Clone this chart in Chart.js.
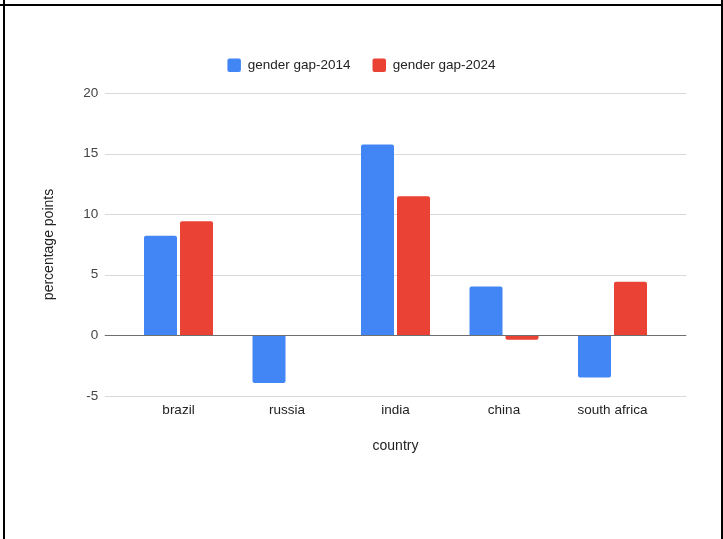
<!DOCTYPE html>
<html>
<head>
<meta charset="utf-8">
<script src="https://cdn.jsdelivr.net/npm/chart.js@4"></script>
<style>
  html, body { margin: 0; padding: 0; background: #fff; overflow: hidden; }
  #wrap { position: relative; width: 723px; height: 539px; }
  #wrap canvas { position: absolute; left: 0; top: 0; }
  .rule { position: absolute; background: #000; }
</style>
</head>
<body>
<div id="wrap">
  <canvas id="c" width="723" height="539"></canvas>
  <div class="rule" style="left:0;top:4px;width:723px;height:2px"></div>
  <div class="rule" style="left:3px;top:0;width:2px;height:539px"></div>
  <div class="rule" style="left:721px;top:0;width:2px;height:539px"></div>
</div>
<script>
// Gender gap (percentage points) by country, 2014 vs 2024
const countries = ['brazil', 'russia', 'india', 'china', 'south africa'];
const gap2014 = [8.23, -3.93, 15.74, 4.04, -3.47];
const gap2024 = [9.41, null, 11.47, -0.35, 4.43];
const seriesNames = ['gender gap-2014', 'gender gap-2024'];
const yTicks = [-5, 0, 5, 10, 15, 20];

const FONT = "'Liberation Sans', Arial, Helvetica, sans-serif";
const GRID_EXT = 19.5;   // gridlines run a little past the category band

// Horizontal gridlines spanning slightly wider than the plot band,
// with the zero baseline drawn on top of the bars.
const wideGrid = {
  id: 'wideGrid',
  beforeDatasetsDraw(chart) {
    const { ctx, chartArea, scales: { y } } = chart;
    ctx.save();
    ctx.lineWidth = 1;
    ctx.strokeStyle = '#d9d9d9';
    y.ticks.forEach(t => {
      if (t.value === 0) return;
      const py = Math.round(y.getPixelForValue(t.value)) + 0.5;
      ctx.beginPath();
      ctx.moveTo(chartArea.left - GRID_EXT, py);
      ctx.lineTo(chartArea.right + GRID_EXT, py);
      ctx.stroke();
    });
    ctx.restore();
  },
  afterDatasetsDraw(chart) {
    const { ctx, chartArea, scales: { y } } = chart;
    const py = Math.round(y.getPixelForValue(0)) + 0.5;
    ctx.save();
    ctx.lineWidth = 1.2;
    ctx.strokeStyle = '#6e6e6e';
    ctx.beginPath();
    ctx.moveTo(chartArea.left - GRID_EXT, py);
    ctx.lineTo(chartArea.right + GRID_EXT, py);
    ctx.stroke();
    ctx.restore();
  }
};

// Extra space between the legend row and the plot
const legendGap = {
  id: 'legendGap',
  afterInit(chart) {
    const fit = chart.legend.fit;
    chart.legend.fit = function () {
      fit.call(this);
      this.height += 11;
    };
  }
};

new Chart(document.getElementById('c'), {
  type: 'bar',
  data: {
    labels: countries,
    datasets: [
      { label: seriesNames[0], data: gap2014, backgroundColor: '#4285f4' },
      { label: seriesNames[1], data: gap2024, backgroundColor: '#ea4335' }
    ]
  },
  options: {
    responsive: false,
    devicePixelRatio: 1,
    animation: false,
    datasets: {
      bar: {
        barPercentage: 0.9167,
        categoryPercentage: 0.6636,
        borderRadius: 2
      }
    },
    layout: { padding: { top: 36.45, bottom: 84.6, left: 0, right: 0 } },
    plugins: {
      tooltip: { enabled: false },
      legend: {
        position: 'top',
        align: 'center',
        labels: {
          boxWidth: 13.5,
          boxHeight: 13.5,
          padding: 22,
          useBorderRadius: true,
          borderRadius: 2,
          color: '#222',
          font: { family: FONT, size: 13.5 }
        }
      }
    },
    scales: {
      x: {
        grid: { display: false, drawTicks: false },
        border: { display: false },
        ticks: { padding: 6, color: '#222', font: { family: FONT, size: 13.5 } },
        title: {
          display: true, text: 'country', color: '#222',
          font: { family: FONT, size: 14 },
          padding: { top: 13.4, bottom: 0 }
        }
      },
      y: {
        min: -5,
        max: 20,
        afterBuildTicks: s => { s.ticks = yTicks.map(v => ({ value: v })); },
        grid: { display: false, drawTicks: false },
        border: { display: false },
        ticks: { padding: 26, color: '#444', font: { family: FONT, size: 13.5 } },
        title: {
          display: true, text: 'percentage points', color: '#222',
          font: { family: FONT, size: 14 },
          padding: { top: 40.6, bottom: 0 }
        },
        afterFit: s => { s.width = 124.25; }
      },
      yRight: {
        type: 'linear',
        position: 'right',
        grid: { display: false, drawTicks: false },
        border: { display: false },
        ticks: { display: false },
        afterFit: s => { s.width = 56.25; }
      }
    }
  },
  plugins: [wideGrid, legendGap]
});
</script>
</body>
</html>
